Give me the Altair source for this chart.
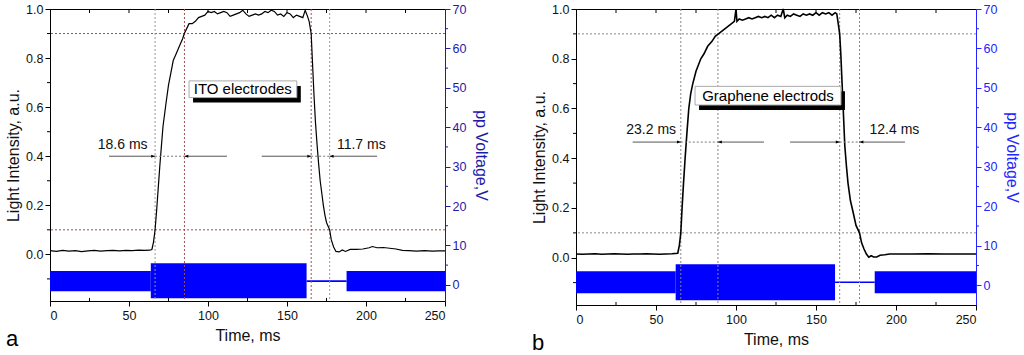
import altair as alt
import pandas as pd

FONT = "Liberation Sans"

# ---------------- Panel a (ITO electrodes) ----------------
a_time = [0, 4, 8, 12, 16, 20, 24, 28, 32, 36,
          40, 44, 48, 52, 56, 60, 63, 64.5, 65.5, 66.5,
          67.5, 68.5, 69.5, 70.5, 71.5, 72.5, 73.5, 75, 76.5, 78,
          80, 82, 84, 85, 86.5, 88, 90, 92, 94, 96,
          98, 100, 102, 104, 106, 108, 110, 112, 114, 116,
          118, 120, 122, 124, 126, 128, 130, 132, 134, 136,
          138, 140, 142, 144, 146, 148, 150, 152, 154, 156,
          158, 160, 161.5, 163, 164, 165.3, 166, 167, 168, 169,
          170, 171, 172, 173, 174, 175, 177, 178, 179.5, 181,
          183, 185, 187, 190, 194, 198, 202, 204, 207, 211,
          215, 219, 223, 227, 232, 237, 242, 246, 250]
a_int = [0.015, 0.012, 0.016, 0.013, 0.015, 0.011, 0.014, 0.016, 0.013, 0.015,
         0.016, 0.014, 0.016, 0.015, 0.017, 0.016, 0.017, 0.02, 0.05, 0.1,
         0.18, 0.27, 0.36, 0.44, 0.52, 0.57, 0.62, 0.69, 0.74, 0.79,
         0.82, 0.85, 0.88, 0.9, 0.92, 0.94, 0.94, 0.95, 0.965, 0.97,
         0.975, 0.99, 0.985, 0.99, 0.98, 0.985, 0.99, 0.985, 0.97, 0.975,
         0.98, 0.985, 0.995, 0.98, 0.97, 0.975, 0.98, 0.975, 0.98, 0.99,
         0.985, 0.995, 0.99, 0.975, 0.98, 0.97, 0.985, 0.98, 0.965, 0.975,
         0.97, 0.965, 0.995, 0.97, 0.95, 0.9, 0.8, 0.66, 0.54, 0.45,
         0.37, 0.3, 0.25, 0.2, 0.16, 0.13, 0.1, 0.06, 0.03, 0.012,
         0.01, 0.018, 0.012, 0.02, 0.02, 0.022, 0.027, 0.032, 0.027, 0.028,
         0.025, 0.022, 0.016, 0.015, 0.013, 0.015, 0.013, 0.014, 0.014]

a_seg_start = [0, 63.8, 162.4, 187.7]
a_seg_end = [63.8, 162.4, 187.7, 250]
a_seg_lo = [-1.6, -3.4, 0.75, -1.6]
a_seg_hi = [3.5, 5.5, 1.15, 3.5]

a_vlines = [66.5, 85.1, 165.3, 177.0]
a_vline_colors = ["#999999", "#a05050", "#a05050", "#999999"]
a_hlines = [0.1, 0.9]
a_hline_color = "#a05050"

a_arrow_y = 0.4
a_arrow_from = [37.4, 112.0, 134.0, 207.0]
a_arrow_to = [66.5, 85.1, 165.3, 177.0]
a_gap_from = [66.5, 165.3]
a_gap_to = [85.1, 177.0]
a_head_right = [66.5, 165.3]
a_head_left = [85.1, 177.0]
a_labels = ["18.6 ms", "11.7 ms"]
a_label_x = [46, 197]
a_label_y = [0.445, 0.445]

a_box = {"x": 88, "x2": 156.2, "y": 0.639, "y2": 0.707, "tx": 122, "ty": 0.673,
         "text": "ITO electrodes"}

# ---------------- Panel b (Graphene electrods) ----------------
b_time = [0, 4, 8, 12, 16, 20, 24, 28, 32, 36,
          40, 44, 48, 52, 56, 60, 63.6, 64.6, 65.5, 66.3,
          67.2, 68.2, 69.3, 70.5, 71.7, 73, 75, 78, 80, 82.3,
          85, 87, 89, 91, 93, 95, 97, 99, 100, 100.6,
          102, 104, 106, 108, 110, 112, 114, 116, 118, 120,
          122, 124, 126, 128, 129.5, 130.5, 132, 134, 136, 138,
          140, 142, 144, 146, 148, 150, 152, 154, 156, 158,
          160, 162, 163, 163.7, 164.8, 165.5, 166.3, 167, 168, 169,
          170, 171.5, 173.3, 175, 177.2, 178.5, 180, 181.5, 183, 184.5,
          186, 188, 190, 193, 196, 200, 210, 220, 230, 240,
          250]
b_int = [0.015, 0.014, 0.015, 0.016, 0.014, 0.015, 0.016, 0.015, 0.014, 0.015,
         0.015, 0.016, 0.015, 0.014, 0.015, 0.016, 0.018, 0.05, 0.1, 0.2,
         0.3, 0.4, 0.5, 0.6, 0.66, 0.7, 0.75, 0.8, 0.82, 0.85,
         0.87, 0.89, 0.9, 0.91, 0.92, 0.93, 0.94, 0.95, 1.0, 0.95,
         0.96, 0.955, 0.96, 0.965, 0.96, 0.965, 0.97, 0.965, 0.97, 0.965,
         0.975, 0.965, 0.975, 0.97, 1.0, 0.965, 0.975, 0.97, 0.98, 0.975,
         0.97, 0.98, 0.975, 0.98, 0.975, 0.985, 0.975, 0.985, 0.98, 0.985,
         0.975, 0.985, 0.98, 0.95, 0.9, 0.82, 0.7, 0.6, 0.45, 0.37,
         0.3, 0.23, 0.18, 0.13, 0.1, 0.06, 0.035, 0.015, 0.002, 0.008,
         0.003, 0.003, 0.01, 0.012, 0.015, 0.015, 0.015, 0.016, 0.015, 0.015,
         0.015]

b_seg_start = [0, 62.3, 161.9, 186.7]
b_seg_end = [62.3, 161.9, 186.7, 250]
b_seg_lo = [-2.0, -3.8, 0.55, -2.0]
b_seg_hi = [3.55, 5.3, 0.95, 3.55]

b_vlines = [65.5, 88.7, 164.8, 177.2]
b_vline_colors = ["#888888", "#888888", "#888888", "#888888"]
b_hlines = [0.1, 0.9]
b_hline_color = "#888888"

b_arrow_y = 0.465
b_arrow_from = [35.4, 117.5, 133.8, 205.6]
b_arrow_to = [65.5, 88.7, 164.8, 177.2]
b_gap_from = [65.5, 164.8]
b_gap_to = [88.7, 177.2]
b_head_right = [65.5, 164.8]
b_head_left = [88.7, 177.2]
b_labels = ["23.2 ms", "12.4 ms"]
b_label_x = [47, 199]
b_label_y = [0.515, 0.515]

b_box = {"x": 74.4, "x2": 165.6, "y": 0.614, "y2": 0.689, "tx": 120, "ty": 0.652,
         "text": "Graphene electrods"}

# ---------------- shared axis ticks ----------------
x_ticks = [0, 50, 100, 150, 200, 250]
x_minor = [25, 75, 125, 175, 225]
x_top_ticks = [25, 50, 75, 100, 125, 150, 175, 200, 225]
i_ticks = [0.0, 0.2, 0.4, 0.6, 0.8, 1.0]
i_minor = [-0.1, 0.1, 0.3, 0.5, 0.7, 0.9]
v_ticks = [0, 10, 20, 30, 40, 50, 60, 70]
v_minor = [5, 15, 25, 35, 45, 55, 65]

RIGHT_HEAD = "M0,0L-1,-0.38L-1,0.38Z"
LEFT_HEAD = "M0,0L1,-0.38L1,0.38Z"


def make_panel(time, inten, seg_s, seg_e, seg_lo, seg_hi, vlines, vcols, hlines,
               hcol, ay, afrom, ato, gfrom, gto, hr, hl, labels, lx, ly, box,
               letter, width, height, vdom, vcolor, line_w):
    xsc = alt.Scale(domain=[0, 250], nice=False, zero=False)
    isc = alt.Scale(domain=[-0.19, 1.0], nice=False, zero=False)
    vsc = alt.Scale(domain=vdom, nice=False, zero=False)

    x_axis = alt.Axis(values=x_ticks, title="Time, ms", titlePadding=6,
                      labelPadding=3)
    i_axis = alt.Axis(orient="left", values=i_ticks, format=".1f",
                      title="Light Intensity, a.u.", titlePadding=4)
    v_axis = alt.Axis(orient="right", values=v_ticks, title="pp Voltage,V",
                      titleColor=vcolor, labelColor=vcolor, tickColor=vcolor,
                      domainColor=vcolor, titlePadding=7)

    def X(f):
        return alt.X(f, scale=xsc, axis=x_axis)

    def Y(f):
        return alt.Y(f, scale=isc, axis=i_axis)

    def V(f):
        return alt.Y(f, scale=vsc, axis=v_axis)

    seg_df = pd.DataFrame({"s": seg_s, "e": seg_e, "lo": seg_lo, "hi": seg_hi})
    volt = alt.Chart(seg_df).mark_rect(color="#0000ff", opacity=1).encode(
        x=X("s:Q"), x2="e:Q", y=V("lo:Q"), y2="hi:Q")

    vm_df = pd.DataFrame({"v": v_minor})
    v_minor_ticks = alt.Chart(vm_df).mark_rule(color=vcolor, strokeWidth=1).encode(
        y=V("v:Q"), x=alt.value(width), x2=alt.value(width + 3))

    volt_layer = alt.layer(volt, v_minor_ticks)

    trace_df = pd.DataFrame({"t": time, "i": inten})
    trace = alt.Chart(trace_df).mark_line(color="black", strokeWidth=line_w).encode(
        x=X("t:Q"), y=Y("i:Q"))

    h_df = pd.DataFrame({"y": hlines})
    hrules = alt.Chart(h_df).mark_rule(color=hcol, strokeDash=[2, 2],
                                       strokeWidth=1).encode(y=Y("y:Q"))

    v_df = pd.DataFrame({"x": vlines, "c": vcols})
    vrules = alt.Chart(v_df).mark_rule(strokeDash=[2, 2], strokeWidth=1).encode(
        x=X("x:Q"), color=alt.Color("c:N", scale=None))

    ar_df = pd.DataFrame({"a": afrom, "b": ato, "y": [ay] * len(afrom)})
    arrows = alt.Chart(ar_df).mark_rule(color="#555555", strokeWidth=1).encode(
        x=X("a:Q"), x2="b:Q", y=Y("y:Q"))

    g_df = pd.DataFrame({"a": gfrom, "b": gto, "y": [ay] * len(gfrom)})
    gaps = alt.Chart(g_df).mark_rule(color="#777777", strokeWidth=1,
                                     strokeDash=[2, 2]).encode(
        x=X("a:Q"), x2="b:Q", y=Y("y:Q"))

    hr_df = pd.DataFrame({"x": hr, "y": [ay] * len(hr)})
    heads_r = alt.Chart(hr_df).mark_point(shape=RIGHT_HEAD, filled=True,
                                          color="black", size=60, opacity=1).encode(
        x=X("x:Q"), y=Y("y:Q"))
    hl_df = pd.DataFrame({"x": hl, "y": [ay] * len(hl)})
    heads_l = alt.Chart(hl_df).mark_point(shape=LEFT_HEAD, filled=True,
                                          color="black", size=60, opacity=1).encode(
        x=X("x:Q"), y=Y("y:Q"))

    lab_df = pd.DataFrame({"x": lx, "y": ly, "t": labels})
    labs = alt.Chart(lab_df).mark_text(font=FONT, fontSize=14, color="#111111",
                                       baseline="middle", align="center").encode(
        x=X("x:Q"), y=Y("y:Q"), text="t:N")

    box_df = pd.DataFrame({"x": [box["x"]], "x2": [box["x2"]], "y": [box["y"]],
                           "y2": [box["y2"]], "tx": [box["tx"]], "ty": [box["ty"]],
                           "text": [box["text"]]})
    shadow = alt.Chart(box_df).mark_rect(color="black", xOffset=4, x2Offset=4,
                                         yOffset=5, y2Offset=5).encode(
        x=X("x:Q"), x2="x2:Q", y=Y("y:Q"), y2="y2:Q")
    boxr = alt.Chart(box_df).mark_rect(fill="white", stroke="#aaaaaa",
                                       strokeWidth=1).encode(
        x=X("x:Q"), x2="x2:Q", y=Y("y:Q"), y2="y2:Q")
    boxt = alt.Chart(box_df).mark_text(font=FONT, fontSize=15, color="black",
                                       baseline="middle", align="center").encode(
        x=X("tx:Q"), y=Y("ty:Q"), text="text:N")

    # minor / frame ticks
    im_df = pd.DataFrame({"y": i_minor})
    i_minor_ticks = alt.Chart(im_df).mark_rule(color="black", strokeWidth=1).encode(
        y=Y("y:Q"), x=alt.value(-3), x2=alt.value(0))
    xm_df = pd.DataFrame({"x": x_minor})
    x_minor_ticks = alt.Chart(xm_df).mark_rule(color="black", strokeWidth=1).encode(
        x=X("x:Q"), y=alt.value(height - 3), y2=alt.value(height))
    xt_df = pd.DataFrame({"x": x_top_ticks})
    x_top = alt.Chart(xt_df).mark_rule(color="black", strokeWidth=1).encode(
        x=X("x:Q"), y=alt.value(0), y2=alt.value(4))

    let_df = pd.DataFrame({"l": [letter]})
    let = alt.Chart(let_df).mark_text(font=FONT, fontSize=22, color="black",
                                      baseline="middle", align="center").encode(
        x=alt.value(-38), y=alt.value(height + 38), text="l:N")

    inten_layer = alt.layer(hrules, vrules, trace, arrows, gaps, heads_r, heads_l,
                            labs, shadow, boxr, boxt, i_minor_ticks,
                            x_minor_ticks, x_top, let)
    return alt.layer(volt_layer, inten_layer).resolve_scale(
        y="independent").properties(width=width, height=height)


pa = make_panel(a_time, a_int, a_seg_start, a_seg_end, a_seg_lo, a_seg_hi,
                a_vlines, a_vline_colors, a_hlines, a_hline_color, a_arrow_y,
                a_arrow_from, a_arrow_to, a_gap_from, a_gap_to, a_head_right,
                a_head_left, a_labels, a_label_x, a_label_y, a_box, "a",
                395, 292, [-4.1, 70], "#1c1ca8", 1.2)
pb = make_panel(b_time, b_int, b_seg_start, b_seg_end, b_seg_lo, b_seg_hi,
                b_vlines, b_vline_colors, b_hlines, b_hline_color, b_arrow_y,
                b_arrow_from, b_arrow_to, b_gap_from, b_gap_to, b_head_right,
                b_head_left, b_labels, b_label_x, b_label_y, b_box, "b",
                400, 296, [-5.0, 70], "#2424ff", 1.6)

chart = alt.hconcat(pa, pb, spacing=41).properties(
    padding={"left": 5, "top": 2, "right": 0, "bottom": 0},
    background="white",
).configure_view(stroke="black", strokeWidth=1).configure_axis(
    labelFont=FONT, titleFont=FONT, labelFontSize=12.5, titleFontSize=16,
    titleFontWeight="normal", tickSize=5, labelPadding=2, grid=False,
    domainColor="black", tickColor="black", labelColor="#111111",
    titleColor="#111111",
)

chart.save("out.html", embed_options={"renderer": "svg", "actions": False})
